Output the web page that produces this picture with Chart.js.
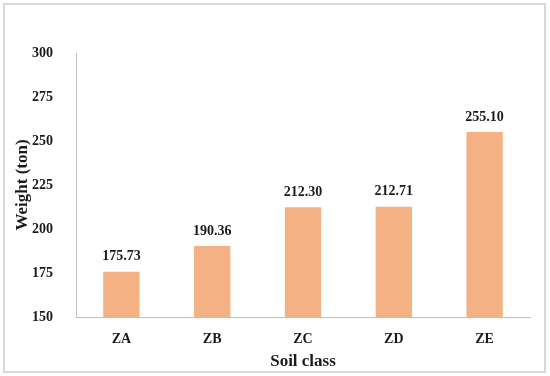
<!DOCTYPE html>
<html>
<head>
<meta charset="utf-8">
<script src="https://cdn.jsdelivr.net/npm/chart.js@4/dist/chart.umd.min.js"></script>
<style>
  html, body { margin: 0; padding: 0; background: #fff; }
  #wrap { width: 550px; height: 376px; }
</style>
</head>
<body>
<div id="wrap"><canvas id="soilChart" width="550" height="376"></canvas></div>
<script>
// chart data
const categories = ["ZA", "ZB", "ZC", "ZD", "ZE"];
const weights = [175.73, 190.36, 212.30, 212.71, 255.10];
const yTicks = [150, 175, 200, 225, 250, 275, 300];

const serif = "'Liberation Serif', 'Times New Roman', serif";
const textColor = "#1a1a1a";

// grey frame around the whole figure
const framePlugin = {
  id: "frame",
  beforeDraw(chart) {
    const ctx = chart.ctx;
    ctx.save();
    ctx.fillStyle = "#fff";
    ctx.fillRect(0, 0, chart.width, chart.height);
    ctx.strokeStyle = "#d9d9d9";
    ctx.lineWidth = 2;
    ctx.strokeRect(4, 4, 541, 368);
    ctx.restore();
  }
};

// value labels above the bars
const valueLabels = {
  id: "valueLabels",
  afterDatasetsDraw(chart) {
    const ctx = chart.ctx;
    const meta = chart.getDatasetMeta(0);
    ctx.save();
    ctx.font = "bold 14px " + serif;
    ctx.fillStyle = textColor;
    ctx.textAlign = "center";
    ctx.textBaseline = "middle";
    meta.data.forEach((bar, i) => {
      ctx.fillText(weights[i].toFixed(2), bar.x, bar.y - 15);
    });
    ctx.restore();
  }
};

const ctx = document.getElementById("soilChart").getContext("2d");
new Chart(ctx, {
  type: "bar",
  data: {
    labels: categories,
    datasets: [{
      data: weights,
      backgroundColor: "#f4b183",
      barPercentage: 0.4,
      categoryPercentage: 1.0
    }]
  },
  options: {
    responsive: false,
    animation: false,
    layout: { padding: { top: 53, right: 20, left: 0, bottom: 0 } },
    plugins: {
      legend: { display: false },
      tooltip: { enabled: false }
    },
    scales: {
      x: {
        grid: { display: false },
        border: { display: true, color: "#bfbfbf", width: 1 },
        ticks: {
          padding: 6,
          color: textColor,
          font: { family: serif, size: 14, weight: "bold" }
        },
        title: {
          display: true,
          text: "Soil class",
          color: textColor,
          font: { family: serif, size: 17, weight: "bold" },
          padding: { top: 0, bottom: 4 }
        },
        afterFit(scale) { scale.height = 59; }
      },
      y: {
        min: 150,
        max: 300,
        grid: { display: false },
        border: { display: true, color: "#bfbfbf", width: 1 },
        afterBuildTicks(scale) {
          scale.ticks = yTicks.map(v => ({ value: v }));
        },
        ticks: {
          padding: 15,
          color: textColor,
          font: { family: serif, size: 14, weight: "bold" }
        },
        title: {
          display: true,
          text: "Weight (ton)",
          color: textColor,
          font: { family: serif, size: 17, weight: "bold" },
          padding: { top: 12, bottom: 0 }
        },
        afterFit(scale) { scale.width = 76; }
      }
    }
  },
  plugins: [framePlugin, valueLabels]
});
</script>
</body>
</html>
